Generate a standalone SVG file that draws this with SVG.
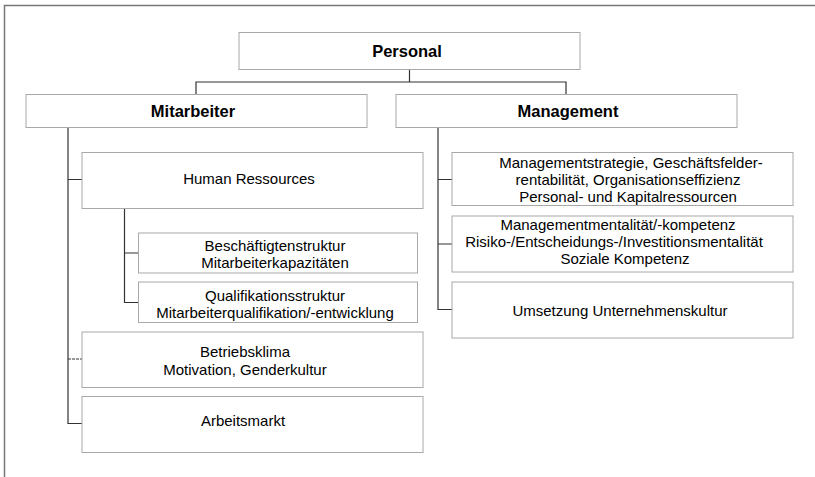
<svg xmlns="http://www.w3.org/2000/svg" width="815" height="477" viewBox="0 0 815 477">
<style>
.box{fill:#fff;stroke:#a8a8a8;stroke-width:1}
.t{font-family:"Liberation Sans",Arial,sans-serif;font-size:15px;fill:#000;text-anchor:middle}
.b{font-weight:bold;font-size:16.5px}
.c{fill:none;stroke:#333;stroke-width:1.2}
</style>
<rect width="815" height="477" fill="#fff"/>
<path d="M4.5 477V5.5H815" fill="none" stroke="#777" stroke-width="1.5"/>
<g id="connectors">
<path class="c" d="M409.5 69V82M196 94V82H566V94"/>
<path class="c" d="M68 127V423.5H82M68 179.5H82"/>
<path class="c" d="M68 359H82" stroke-dasharray="3,1"/>
<path class="c" d="M124.5 208V302.5H138M124.5 253H138"/>
<path class="c" d="M438 127V309.5H452M438 179.5H452M438 244H452"/>
</g>
<g id="personal"><rect class="box" x="239" y="32.5" width="341" height="37"/><text class="t b" x="407" y="57">Personal</text></g>
<g id="mitarbeiter"><rect class="box" x="26" y="94.5" width="341" height="33"/><text class="t b" x="193" y="116.5">Mitarbeiter</text></g>
<g id="management"><rect class="box" x="396" y="94.5" width="341" height="33"/><text class="t b" x="568" y="116.5">Management</text></g>
<g id="hr"><rect class="box" x="82" y="152.5" width="341" height="56"/><text class="t" x="249" y="183.5">Human Ressources</text></g>
<g id="besch"><rect class="box" x="138.5" y="233" width="279" height="40"/><text class="t" x="275" y="251">Beschäftigtenstruktur</text><text class="t" x="275" y="268">Mitarbeiterkapazitäten</text></g>
<g id="qual"><rect class="box" x="138.5" y="282" width="279" height="40.5"/><text class="t" x="275" y="301">Qualifikationsstruktur</text><text class="t" x="275" y="318">Mitarbeiterqualifikation/-entwicklung</text></g>
<g id="klima"><rect class="box" x="82" y="332" width="341" height="55.5"/><text class="t" x="245" y="356.5">Betriebsklima</text><text class="t" x="245" y="375">Motivation, Genderkultur</text></g>
<g id="arbeitsmarkt"><rect class="box" x="82" y="396.5" width="341" height="56"/><text class="t" x="243" y="425.5">Arbeitsmarkt</text></g>
<g id="m1"><rect class="box" x="452" y="152.5" width="341" height="53"/><text class="t" x="631" y="167.5">Managementstrategie, Geschäftsfelder-</text><text class="t" x="628" y="184.5">rentabilität, Organisationseffizienz</text><text class="t" x="628" y="201.5">Personal- und Kapitalressourcen</text></g>
<g id="m2"><rect class="box" x="452" y="216" width="341" height="56"/><text class="t" x="618" y="229.5">Managementmentalität/-kompetenz</text><text class="t" x="614" y="246.5">Risiko-/Entscheidungs-/Investitionsmentalität</text><text class="t" x="625" y="263.5">Soziale Kompetenz</text></g>
<g id="m3"><rect class="box" x="452" y="282" width="341" height="56"/><text class="t" x="620" y="315.5">Umsetzung Unternehmenskultur</text></g>
</svg>
